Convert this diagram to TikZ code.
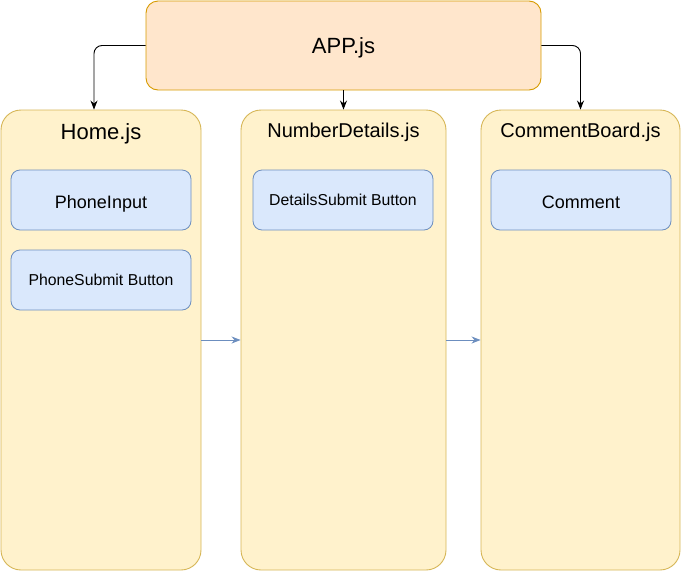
\documentclass[tikz,border=0pt]{standalone}
\usepackage{fontspec}
\setmainfont{Liberation Sans}
\usepackage{tikz}
\usepackage{xcolor}
\usetikzlibrary{arrows.meta,positioning}

\definecolor{appfill}{HTML}{FFE6CC}
\definecolor{appline}{HTML}{D79B00}
\definecolor{panelfill}{HTML}{FFF2CC}
\definecolor{panelline}{HTML}{D6B656}
\definecolor{itemfill}{HTML}{DAE8FC}
\definecolor{itemline}{HTML}{6C8EBF}

\tikzset{
  appbox/.style={draw=appline, fill=appfill, line width=0.9pt, rounded corners=12pt,
    minimum width=395pt, minimum height=89pt, text height=15pt, text depth=0pt,
    font=\fontsize{22}{26}\selectfont},
  panel/.style={draw=panelline, fill=panelfill, line width=0.9pt, rounded corners=20pt,
    minimum height=460pt},
  itembox/.style={draw=itemline, fill=itemfill, line width=0.8pt, rounded corners=9pt,
    minimum width=180pt, minimum height=60pt, text depth=0pt},
  bigitem/.style={itembox, text height=16pt, font=\fontsize{18}{22}\selectfont},
  smallitem/.style={itembox, text height=11.5pt, font=\fontsize{15.8}{20}\selectfont},
  call/.style={line width=0.9pt, -{Stealth[length=9pt,width=7pt]}, rounded corners=8pt},
  flow/.style={draw=itemline, line width=0.9pt, -{Stealth[length=9pt,width=7pt]}}
}

\begin{document}
\begin{tikzpicture}[x=1pt,y=-1pt]

\useasboundingbox (0,0) rectangle (681,571);

\node[appbox] (app) at (343.5,45.5) {APP.js};

\node[panel, minimum width=200pt] (home) at (101,340) {};
\node[panel, minimum width=205pt] (numdet) at (343.5,340) {};
\node[panel, minimum width=199pt] (board) at (580.5,340) {};

\node[below=10pt of home.north, font=\fontsize{22}{26}\selectfont] (hometitle) {Home.js};
\node[below=10pt of numdet.north, font=\fontsize{20}{24}\selectfont] (numtitle) {NumberDetails.js};
\node[below=10pt of board.north, font=\fontsize{20}{24}\selectfont] (boardtitle) {CommentBoard.js};

\node[bigitem] (phonein) at (101,200) {PhoneInput};
\node[smallitem] (phonesub) at (101,280) {PhoneSubmit Button};
\node[smallitem] (detailsub) at (343,200) {DetailsSubmit Button};
\node[bigitem] (comment) at (581,200) {Comment};

% links from the app
\draw[call] (app.west) -| ([xshift=-7pt]home.north);
\draw[call] (app.south) -- (numdet.north);
\draw[call] (app.east) -| (board.north);

% page flow
\draw[flow] (home.east) -- (numdet.west);
\draw[flow] (numdet.east) -- (board.west);

\end{tikzpicture}
\end{document}
